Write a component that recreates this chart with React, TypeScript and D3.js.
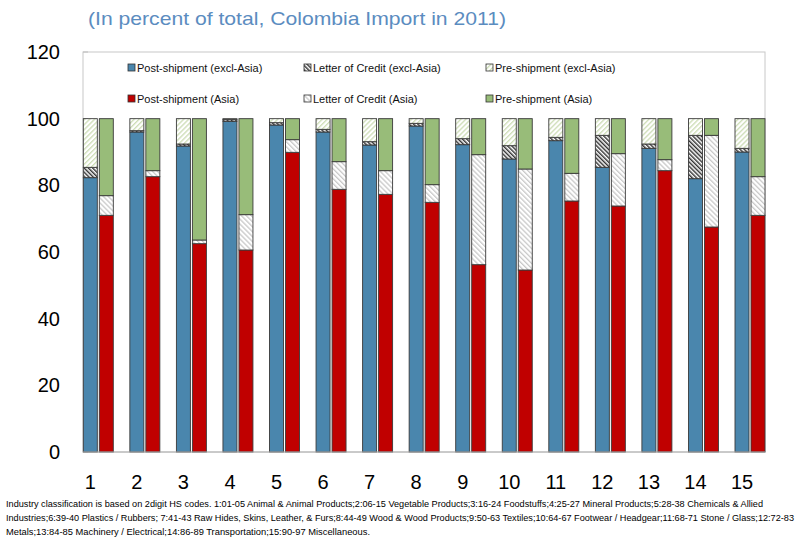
import React from "react";
import * as d3 from "d3";

const categories = ["1","2","3","4","5","6","7","8","9","10","11","12","13","14","15"];
// excl-Asia stack
const postExcl = [82.3, 96.0, 91.8, 99.2, 98.1, 96.0, 92.1, 97.8, 92.2, 87.9, 93.4, 85.4, 91.1, 82.0, 90.0];
const lcExcl   = [3.1, 0.4, 0.6, 0.5, 0.7, 0.8, 1.0, 0.8, 1.8, 4.0, 1.0, 9.6, 1.3, 13.0, 1.1];
const preExcl  = [14.6, 3.6, 7.6, 0.3, 1.2, 3.2, 6.9, 1.4, 6.0, 8.1, 5.6, 5.0, 7.6, 5.0, 8.9];
// Asia stack
const postAsia = [71.0, 82.6, 62.5, 60.6, 89.9, 78.8, 77.3, 74.9, 56.2, 54.6, 75.3, 73.8, 84.4, 67.5, 71.0];
const lcAsia   = [5.9, 1.8, 1.1, 10.6, 3.8, 8.3, 7.1, 5.3, 33.0, 30.3, 8.3, 15.7, 3.3, 27.5, 11.6];
const preAsia  = [23.1, 15.6, 36.4, 28.8, 6.3, 12.9, 15.6, 19.8, 10.8, 15.1, 16.4, 10.5, 12.3, 5.0, 17.4];

const yTicks = [0, 20, 40, 60, 80, 100, 120];

const seriesNames = [
  "Post-shipment (excl-Asia)",
  "Letter of Credit (excl-Asia)",
  "Pre-shipment (excl-Asia)",
  "Post-shipment (Asia)",
  "Letter of Credit (Asia)",
  "Pre-shipment (Asia)",
];

const title = "(In percent of total, Colombia Import in 2011)";
const noteLines = [
  "Industry classification is based on 2digit HS codes. 1:01-05 Animal & Animal Products;2:06-15 Vegetable Products;3:16-24 Foodstuffs;4:25-27 Mineral Products;5:28-38 Chemicals & Allied",
  "Industries;6:39-40 Plastics / Rubbers; 7:41-43 Raw Hides, Skins, Leather, & Furs;8:44-49 Wood & Wood Products;9:50-63 Textiles;10:64-67 Footwear / Headgear;11:68-71 Stone / Glass;12:72-83",
  "Metals;13:84-85 Machinery / Electrical;14:86-89 Transportation;15:90-97 Miscellaneous.",
];

const fills = [
  "#4A86AD",
  "url(#patLCex)",
  "url(#patPreEx)",
  "#C00000",
  "url(#patLCas)",
  "#98BC79",
];

const FONT = "'Liberation Sans', Arial, sans-serif";

export default function App() {
  const left = 83, right = 765, top = 52, bottom = 452;
  const y = d3.scaleLinear().domain([0, 120]).range([bottom, top]);
  const step = 46.55;
  const x = d3.scaleLinear().domain([0, categories.length]).range([83.3, 83.3 + step * categories.length]);
  const barW = 14;
  const gap = 16;

  const stacks = categories.map((c, i) => {
    const ex = [postExcl[i], lcExcl[i], preExcl[i]];
    const as = [postAsia[i], lcAsia[i], preAsia[i]];
    const segs: { x: number; y0: number; y1: number; fill: string; key: string }[] = [];
    let acc = 0;
    ex.forEach((v, k) => {
      segs.push({ x: x(i), y0: acc, y1: acc + v, fill: fills[k], key: `e${i}-${k}` });
      acc += v;
    });
    acc = 0;
    as.forEach((v, k) => {
      segs.push({ x: x(i) + gap, y0: acc, y1: acc + v, fill: fills[3 + k], key: `a${i}-${k}` });
      acc += v;
    });
    return segs;
  });

  const legendCols = [128, 304, 486];
  const legendRows = [68, 99];

  return (
    <svg width={801} height={541} style={{ position: "absolute", left: 0, top: 0, background: "#fff" }}>
      <defs>
        <pattern id="patLCex" patternUnits="userSpaceOnUse" width={3} height={3} patternTransform="rotate(-45)">
          <rect width={3} height={3} fill="#ffffff" />
          <line x1={0.75} y1={0} x2={0.75} y2={3} stroke="#1a1a1a" strokeWidth={1.3} />
        </pattern>
        <pattern id="patPreEx" patternUnits="userSpaceOnUse" width={3.5} height={3.5} patternTransform="rotate(45)">
          <rect width={3.5} height={3.5} fill="#ffffff" />
          <line x1={0.7} y1={0} x2={0.7} y2={3.5} stroke="#c3d6a8" strokeWidth={1.1} />
        </pattern>
        <pattern id="patLCas" patternUnits="userSpaceOnUse" width={3.5} height={3.5} patternTransform="rotate(-45)">
          <rect width={3.5} height={3.5} fill="#ffffff" />
          <line x1={0.7} y1={0} x2={0.7} y2={3.5} stroke="#b8b8b8" strokeWidth={1} />
        </pattern>
      </defs>

      <text x={88} y={25} fontFamily={FONT} fontSize={19} fill="#5B8CC0" textLength={418} lengthAdjust="spacingAndGlyphs">
        {title}
      </text>

      {/* plot frame */}
      <rect x={left} y={top} width={right - left} height={bottom - top} fill="none" stroke="#c8c8c8" strokeWidth={1} />

      {/* y ticks */}
      {yTicks.map((t) => (
        <g key={t}>
          <line x1={left} x2={left + 5} y1={y(t)} y2={y(t)} stroke="#bdbdbd" />
          <text x={60} y={y(t) + 7} textAnchor="end" fontFamily={FONT} fontSize={20} fill="#000">
            {t}
          </text>
        </g>
      ))}

      {/* bars */}
      {stacks.flat().map((s) =>
        s.y1 - s.y0 > 0 ? (
          <rect
            key={s.key}
            x={s.x}
            y={y(s.y1)}
            width={barW}
            height={y(s.y0) - y(s.y1)}
            fill={s.fill}
            stroke="#3a3a3a"
            strokeWidth={0.9}
          />
        ) : null
      )}

      {/* x axis */}
      <line x1={left} x2={right} y1={bottom} y2={bottom} stroke="#b0b0b0" />
      {categories.map((c, i) => (
        <text key={c} x={x(i) + barW / 2} y={489} textAnchor="middle" fontFamily={FONT} fontSize={20} fill="#000">
          {c}
        </text>
      ))}

      {/* legend */}
      {seriesNames.map((n, k) => {
        const cx = legendCols[k % 3];
        const cy = legendRows[Math.floor(k / 3)];
        return (
          <g key={n}>
            <rect x={cx} y={cy - 4} width={7} height={7} fill={fills[k]} stroke="#333" strokeWidth={0.8} />
            <text x={cx + 9} y={cy + 3.5} fontFamily={FONT} fontSize={11} fill="#111">
              {n}
            </text>
          </g>
        );
      })}

      {/* note */}
      {noteLines.map((l, i) => (
        <text
          key={i}
          x={6}
          y={507 + i * 14}
          fontFamily={FONT}
          fontSize={8.8}
          fill="#000"
          textLength={[757, 788, 364][i]}
          lengthAdjust="spacingAndGlyphs"
        >
          {l}
        </text>
      ))}
    </svg>
  );
}
